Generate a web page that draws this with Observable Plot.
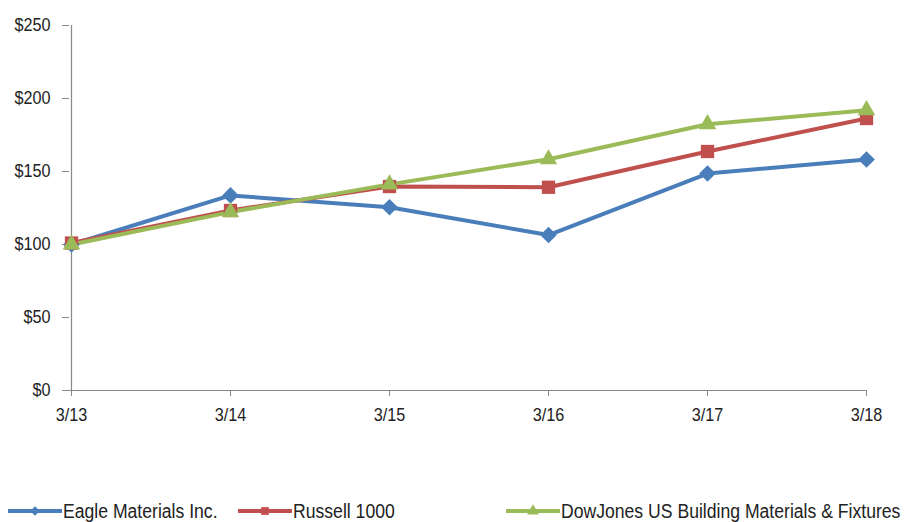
<!DOCTYPE html>
<html>
<head>
<meta charset="utf-8">
<script src="https://cdn.jsdelivr.net/npm/d3@7"></script>
<script src="https://cdn.jsdelivr.net/npm/@observablehq/plot@0.6"></script>
<style>
  body { margin: 0; background: #fff; font-family: "Liberation Sans", Arial, sans-serif; }
  #chart { position: relative; width: 915px; height: 522px; }
  .legend { position: absolute; top: 499px; left: 0; width: 915px; height: 24px; font-size: 20px; color: #222; }
  .item { position: absolute; top: 0; display: flex; align-items: center; white-space: nowrap; }
  .item svg { margin-right: 1px; }
  .item span { display: inline-block; transform: scaleX(0.88); transform-origin: 0 50%; }
</style>
</head>
<body>
<div id="chart"></div>
<script>
const periods = ["3/13", "3/14", "3/15", "3/16", "3/17", "3/18"];
const seriesNames = ["Eagle Materials Inc.", "Russell 1000", "DowJones US Building Materials & Fixtures"];
const eagle = [100, 133.6, 125.5, 106.5, 148.6, 158.2];
const russell = [101, 123.3, 139.7, 139.2, 163.7, 186.3];
const dowjones = [100, 122.2, 141.2, 158.4, 182.4, 192];
const colors = ["#4A7EBB", "#C0504D", "#9BBB59"];
const symbols = ["diamond2", "square", "triangle"];
const yTicks = [0, 50, 100, 150, 200, 250];

const seriesValues = [eagle, russell, dowjones];
const data = [];
seriesNames.forEach((name, i) => {
  periods.forEach((p, j) => data.push({series: name, period: p, value: seriesValues[i][j]}));
});

const font = '"Liberation Sans", Arial, sans-serif';

const plot = Plot.plot({
  width: 915,
  height: 440,
  marginLeft: 69,
  marginRight: 48,
  marginTop: 25,
  marginBottom: 50,
  style: {fontFamily: font, fontSize: "18px", color: "#222", background: "transparent"},
  x: {type: "point", domain: periods, padding: 0, label: null},
  y: {domain: [0, 250], label: null},
  marks: [
    Plot.ruleY([0], {stroke: "#888", strokeWidth: 1.2}),
    Plot.ruleX([periods[0]], {stroke: "#888", strokeWidth: 1.2, y1: 0, y2: 250}),
    Plot.axisY({ticks: yTicks, tickFormat: d => "$" + d, tickSize: 7, tickPadding: 12, stroke: "#888", fontSize: 18}),
    Plot.axisX({tickSize: 6, tickPadding: 12, stroke: "#888", fontSize: 18}),
    ...seriesNames.map((name, i) =>
      Plot.line(data.filter(d => d.series === name), {x: "period", y: "value", stroke: colors[i], strokeWidth: 4})),
    ...seriesNames.map((name, i) =>
      Plot.dot(data.filter(d => d.series === name), {
        x: "period", y: "value", fill: colors[i], stroke: "none",
        symbol: symbols[i], r: [7.5, 7.5, 6.5][i]
      }))
  ]
});

// horizontally condense text to mimic a narrow font
plot.querySelectorAll("text").forEach(t => {
  const tr = t.getAttribute("transform") || "";
  t.setAttribute("transform", `${tr} scale(0.9,1)`);
});
document.getElementById("chart").appendChild(plot);

// legend
const legend = document.createElement("div");
legend.className = "legend";
const lefts = [8, 238, 506];
const symMap = [d3.symbolDiamond2, d3.symbolSquare, d3.symbolTriangle];
seriesNames.forEach((name, i) => {
  const item = document.createElement("div");
  item.className = "item";
  item.style.left = lefts[i] + "px";
  const sw = d3.create("svg").attr("width", 54).attr("height", 24);
  sw.append("line").attr("x1", 0).attr("x2", 54).attr("y1", 12).attr("y2", 12)
    .attr("stroke", colors[i]).attr("stroke-width", 4);
  sw.append("path").attr("d", d3.symbol(symMap[i], 60)())
    .attr("transform", "translate(27,12)").attr("fill", colors[i]);
  item.appendChild(sw.node());
  const t = document.createElement("span");
  t.textContent = name;
  item.appendChild(t);
  legend.appendChild(item);
});
document.getElementById("chart").appendChild(legend);
</script>
</body>
</html>
